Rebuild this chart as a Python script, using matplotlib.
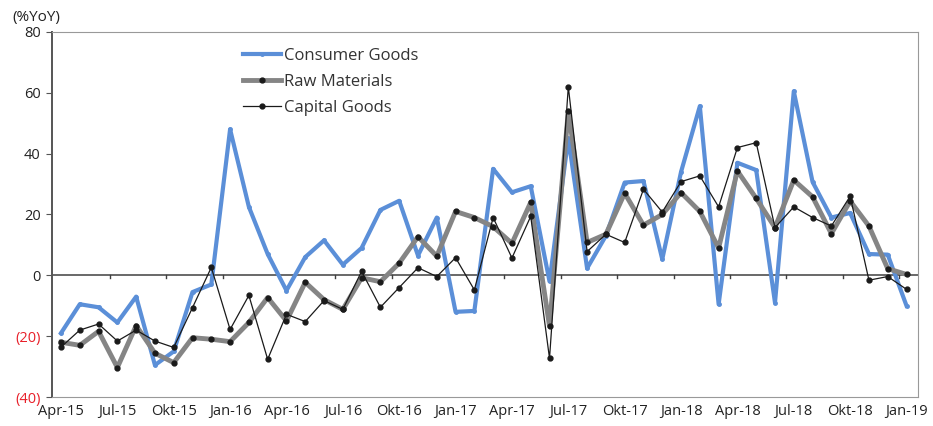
import matplotlib.pyplot as plt

# monthly, Apr-15 .. Jan-19
months = ['Apr-15', 'May-15', 'Jun-15', 'Jul-15', 'Aug-15', 'Sep-15', 'Okt-15', 'Nov-15', 'Dec-15',
          'Jan-16', 'Feb-16', 'Mar-16', 'Apr-16', 'May-16', 'Jun-16', 'Jul-16', 'Aug-16', 'Sep-16',
          'Okt-16', 'Nov-16', 'Dec-16', 'Jan-17', 'Feb-17', 'Mar-17', 'Apr-17', 'May-17', 'Jun-17',
          'Jul-17', 'Aug-17', 'Sep-17', 'Okt-17', 'Nov-17', 'Dec-17', 'Jan-18', 'Feb-18', 'Mar-18',
          'Apr-18', 'May-18', 'Jun-18', 'Jul-18', 'Aug-18', 'Sep-18', 'Okt-18', 'Nov-18', 'Dec-18',
          'Jan-19']

consumer = [-19, -9.5, -10.5, -15.5, -7, -29.5, -25, -5.5, -3, 48, 22.5, 7, -5, 6, 11.5, 3.5,
            9, 21.5, 24.5, 6.5, 19, -12, -11.7, 35, 27.3, 29.3, -2, 45, 2.3, 13, 30.5, 31,
            5.3, 34, 55.6, -9.5, 37, 34.6, -9, 60.5, 30.7, 19, 20.5, 7, 6.8, -10]
raw = [-22, -23, -18.4, -30.3, -16.5, -25.6, -28.7, -20.5, -21, -21.8, -15.5, -7.3, -15, -2.3,
       -8, -11.2, -0.8, -2.1, 4, 12.7, 6.3, 21, 19, 16, 10.5, 24, -16.7, 54, 10.8, 13.5,
       27, 16.5, 20, 27.2, 21, 9, 34.3, 25.3, 15.7, 31.3, 25.8, 13.7, 24.4, 16.2, 2.2, 0.3]
capital = [-23.6, -18, -16, -21.6, -18, -21.6, -23.7, -10.6, 2.6, -17.8, -6.6, -27.6, -12.8,
           -15.2, -8.3, -11.2, 1.3, -10.5, -4, 2.5, -0.4, 5.8, -4.8, 19, 5.7, 19.4, -27.3, 62,
           7.8, 13.5, 10.8, 28.3, 20.8, 30.8, 32.7, 22.5, 42, 43.6, 15.7, 22.5, 19, 16.2, 26,
           -1.6, -0.4, -4.6]

yticks = [80, 60, 40, 20, 0, -20, -40]
ytick_labels = ['80', '60', '40', '20', '0', '(20)', '(40)']

x = list(range(len(months)))

plt.rcParams['font.family'] = ['Open Sans', 'DejaVu Sans']
fig = plt.figure(figsize=(9.33, 4.26), dpi=100)
ax = fig.add_axes([0.0557, 0.068, 0.928, 0.857])

ax.plot(x, consumer, color='#5b8fd8', lw=3.0, marker='o', ms=2.5, label='Consumer Goods', zorder=3)
ax.plot(x, raw, color='#858585', lw=3.5, marker='o', ms=3.5, mfc='#1a1a1a', mec='#1a1a1a',
        label='Raw Materials', zorder=4)
ax.plot(x, capital, color='#1a1a1a', lw=0.9, marker='o', ms=3.5, label='Capital Goods', zorder=5)

# zero line with small category ticks
ax.axhline(0, color='#404040', lw=1.1, zorder=2)
for t in range(2, len(months), 3):
    ax.plot([t + 0.6, t + 0.6], [0, -0.9], color='#404040', lw=1, zorder=2)

ax.set_xlim(-0.48, 45.6)
ax.set_ylim(-40, 80)
ax.set_yticks(yticks)
ax.set_yticklabels(ytick_labels, fontsize=10.5, color='#222222')
for lbl, v in zip(ax.get_yticklabels(), yticks):
    if v < 0:
        lbl.set_color('#e8202a')
ax.set_xticks(x[::3])
ax.set_xticklabels(months[::3], fontsize=10.5, color='#222222')
ax.tick_params(axis='x', length=0, pad=5)
ax.tick_params(axis='y', length=4, direction='out', color='#555555', pad=4)

for side in ['top', 'right', 'bottom']:
    ax.spines[side].set_color('#999999')
ax.spines['left'].set_color('#555555')
ax.spines['left'].set_linewidth(1.4)

ax.text(-0.046, 1.03, '(%YoY)', transform=ax.transAxes, fontsize=11, color='#222222')

ax.legend(loc='upper left', bbox_to_anchor=(0.203, 0.997), frameon=False, fontsize=12,
          handlelength=2.3, labelspacing=0.6, handletextpad=0.2, labelcolor='#333333')

fig.savefig('out.png', dpi=100)
